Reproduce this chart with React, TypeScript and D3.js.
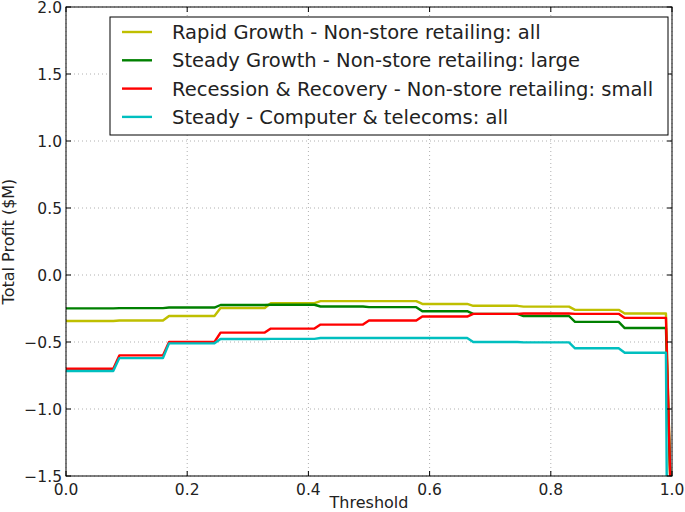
import React from "react";
import * as d3 from "d3";

const thresholds = [0, 0.078, 0.088, 0.16, 0.17, 0.245, 0.255, 0.328, 0.338, 0.41, 0.42, 0.49, 0.5, 0.578, 0.588, 0.662, 0.672, 0.745, 0.755, 0.83, 0.84, 0.912, 0.922, 0.99, 1.0];

const rapidGrowth = [-0.343, -0.343, -0.34, -0.34, -0.306, -0.306, -0.246, -0.246, -0.21, -0.21, -0.195, -0.195, -0.195, -0.195, -0.216, -0.216, -0.23, -0.23, -0.236, -0.236, -0.26, -0.26, -0.287, -0.287, -2.0];
const steadyGrowth = [-0.249, -0.249, -0.247, -0.247, -0.243, -0.243, -0.224, -0.224, -0.222, -0.222, -0.235, -0.235, -0.24, -0.24, -0.27, -0.27, -0.29, -0.29, -0.306, -0.306, -0.35, -0.35, -0.396, -0.396, -2.0];
const recession = [-0.70, -0.70, -0.60, -0.60, -0.50, -0.50, -0.43, -0.43, -0.40, -0.40, -0.37, -0.37, -0.34, -0.34, -0.31, -0.31, -0.29, -0.29, -0.287, -0.287, -0.29, -0.29, -0.32, -0.32, -2.0];
const steadyComputer = [-0.716, -0.716, -0.62, -0.62, -0.51, -0.51, -0.478, -0.478, -0.477, -0.477, -0.47, -0.47, -0.47, -0.47, -0.47, -0.47, -0.50, -0.50, -0.503, -0.503, -0.547, -0.547, -0.58, -0.58, -2.0];

const seriesNames = [
  "Rapid Growth - Non-store retailing: all",
  "Steady Growth - Non-store retailing: large",
  "Recession & Recovery - Non-store retailing: small",
  "Steady - Computer & telecoms: all",
];
const seriesValues = [rapidGrowth, steadyGrowth, recession, steadyComputer];
const seriesColors = ["#bfbf00", "#008000", "#ff0000", "#00bfbf"];

const xTicks = [0, 0.2, 0.4, 0.6, 0.8, 1.0];
const yTicks = [-1.5, -1.0, -0.5, 0.0, 0.5, 1.0, 1.5, 2.0];

export default function App() {
  const W = 685, H = 512;
  const left = 66, right = 672, top = 7, bottom = 476;
  const x = d3.scaleLinear().domain([0, 1]).range([left, right]);
  const y = d3.scaleLinear().domain([-1.5, 2.0]).range([bottom, top]);
  const line = d3.line<[number, number]>().x((d) => x(d[0])).y((d) => y(d[1]));
  const fmt = (v: number) => (v < 0 ? "\u2212" + Math.abs(v).toFixed(1) : v.toFixed(1));
  const font = "DejaVu Sans, sans-serif";
  const textColor = "#222";

  return (
    <svg width={W} height={H} style={{ position: "absolute", left: 0, top: 0, background: "#fff" }} fontFamily={font}>
      <defs>
        <clipPath id="plotclip">
          <rect x={left} y={top} width={right - left} height={bottom - top} />
        </clipPath>
      </defs>
      <rect x={0} y={0} width={W} height={H} fill="#fff" />
      {/* grid */}
      {xTicks.map((t) => (
        <line key={"gx" + t} x1={x(t)} x2={x(t)} y1={top} y2={bottom} stroke="#b0b0b0" strokeDasharray="1,3" strokeWidth={1} />
      ))}
      {yTicks.map((t) => (
        <line key={"gy" + t} x1={left} x2={right} y1={y(t)} y2={y(t)} stroke="#b0b0b0" strokeDasharray="1,3" strokeWidth={1} />
      ))}
      {/* lines */}
      <g clipPath="url(#plotclip)">
        {seriesValues.map((vals, i) => {
          const pts: [number, number][] = vals.map((v, j) => [thresholds[j], v]);
          if (i === 3) pts[pts.length - 1] = [0.992, vals[vals.length - 1]];
          return <path key={i} d={line(pts) || ""} fill="none" stroke={seriesColors[i]} strokeWidth={2.4} strokeLinejoin="round" />;
        })}
      </g>
      {/* ticks */}
      {xTicks.map((t) => (
        <g key={"tx" + t}>
          <line x1={x(t)} x2={x(t)} y1={bottom} y2={bottom - 5} stroke="#000" />
          <line x1={x(t)} x2={x(t)} y1={top} y2={top + 5} stroke="#000" />
          <text x={x(t)} y={495} textAnchor="middle" fontSize={15.5} fill={textColor}>{t.toFixed(1)}</text>
        </g>
      ))}
      {yTicks.map((t) => (
        <g key={"ty" + t}>
          <line x1={left} x2={left + 5} y1={y(t)} y2={y(t)} stroke="#000" />
          <line x1={right} x2={right - 5} y1={y(t)} y2={y(t)} stroke="#000" />
          <text x={62} y={y(t) + 6} textAnchor="end" fontSize={15.5} fill={textColor}>{fmt(t)}</text>
        </g>
      ))}
      {/* frame */}
      <rect x={left} y={top} width={right - left} height={bottom - top} fill="none" stroke="#000" strokeWidth={1} />
      {/* axis labels */}
      <text x={(left + right) / 2} y={508} textAnchor="middle" fontSize={16} fill={textColor}>Threshold</text>
      <text transform={`translate(14,${(top + bottom) / 2}) rotate(-90)`} textAnchor="middle" fontSize={16} fill={textColor}>Total Profit ($M)</text>
      {/* legend */}
      <rect x={110} y={17} width={558} height={118} fill="#fff" stroke="#000" strokeWidth={1} />
      {seriesNames.map((name, i) => {
        const ly = 32 + i * 28.3;
        return (
          <g key={"lg" + i}>
            <line x1={122} x2={152} y1={ly} y2={ly} stroke={seriesColors[i]} strokeWidth={2.4} />
            <text x={172} y={ly + 7} fontSize={19.5} fill={textColor}>{name}</text>
          </g>
        );
      })}
    </svg>
  );
}
